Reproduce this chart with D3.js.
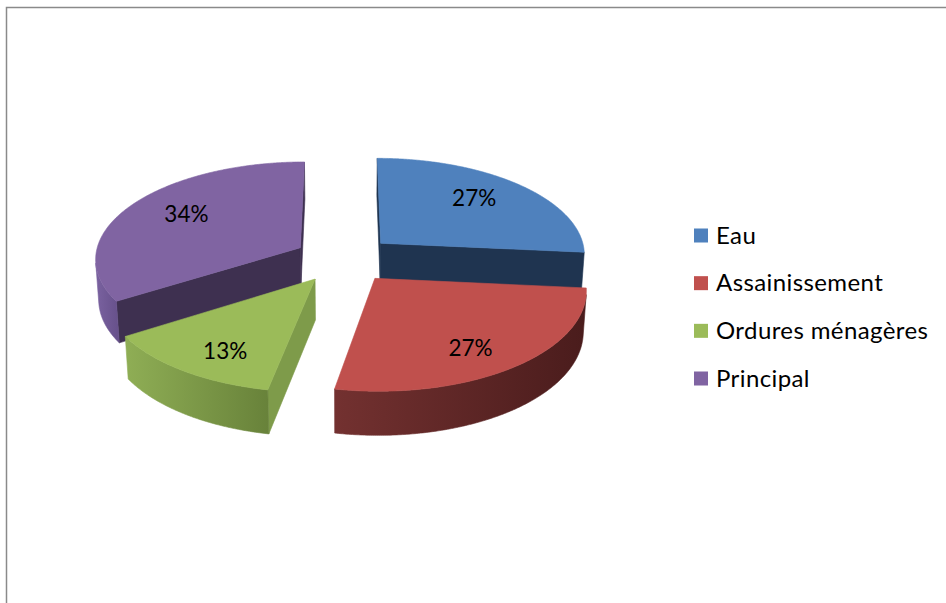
<!DOCTYPE html>
<html>
<head>
<meta charset="utf-8">
<script src="https://cdn.jsdelivr.net/npm/d3@7"></script>
<style>
  body { margin: 0; background: #fff; }
  svg { display: block; }
  text { font-family: Lato, "Open Sans", sans-serif; fill: #000; }
</style>
</head>
<body>
<svg width="946" height="603"></svg>
<script>
// data
var categories = ["Eau", "Assainissement", "Ordures ménagères", "Principal"];
var values = [26.5, 26.5, 13, 34];

// styles
var topColors = ["#4F81BD", "#C0504D", "#9BBB59", "#8064A2"];
var cutColors = ["#1F3450", "#5A2423", "#7E9B4A", "#3E3050"];
var wallLight = ["#2C4A70", "#733130", "#8FAE55", "#7A62A0"];
var wallDark = ["#1F3450", "#4A1C1C", "#68823A", "#66508A"];

var svg = d3.select("svg");

// chart frame
svg.append("rect")
    .attr("x", 6.5).attr("y", 7.5)
    .attr("width", 1200).attr("height", 1200)
    .attr("fill", "#fff")
    .attr("stroke", "#8a8a8a")
    .attr("stroke-width", 1.5);

// 3d projection of the pie (unit radius, viewed from above at an angle)
var sinP = 0.471, cosP = 0.882, dist = 8.5, focal = 1748;
var cx = 344, cy = 259, explode = 0.245, depth = 0.225;

function project(X, Y, Z) {
    var u = Y * cosP + Z * sinP,
        d = Z * cosP - Y * sinP;
    return [cx + focal * X / (dist + d), cy - focal * u / (dist + d)];
}

var arcs = d3.pie().sort(null).value(function(d) { return d; })(values);
var total = d3.sum(values);

arcs.forEach(function(a, i) {
    a.i = i;
    a.mid = (a.startAngle + a.endAngle) / 2;
    a.ox = explode * Math.sin(a.mid);
    a.oz = explode * Math.cos(a.mid);
});

function pt(a, ang, r, Y) {
    return project(a.ox + r * Math.sin(ang), Y, a.oz + r * Math.cos(ang));
}
function arcPts(a, t0, t1, Y) {
    var n = Math.max(2, Math.ceil((t1 - t0) / (Math.PI / 360)));
    return d3.range(n + 1).map(function(k) { return pt(a, t0 + (t1 - t0) * k / n, 1, Y); });
}
function pathOf(pts) {
    return "M" + pts.map(function(p) { return p[0].toFixed(2) + "," + p[1].toFixed(2); }).join("L") + "Z";
}
// is the outer wall at angle t facing the camera
function wallVisible(a, t) {
    return -a.ox * Math.sin(t) - 1 - (dist * cosP + a.oz) * Math.cos(t) > 0;
}

var defs = svg.append("defs");

// back slices first
var order = arcs.slice().sort(function(p, q) { return q.oz - p.oz; });

order.forEach(function(a) {
    var i = a.i;
    var g = svg.append("g").attr("class", "slice");

    // cut faces along the radii
    [[a.startAngle, -1], [a.endAngle, 1]].forEach(function(f) {
        var quad = [pt(a, f[0], 0, 0), pt(a, f[0], 1, 0), pt(a, f[0], 1, -depth), pt(a, f[0], 0, -depth)];
        if (f[1] * d3.polygonArea(quad) < 0) {
            g.append("path")
                .attr("d", pathOf(quad))
                .attr("fill", cutColors[i])
                .attr("stroke", cutColors[i])
                .attr("stroke-width", 0.6);
        }
    });

    // outer wall
    var steps = d3.range(0, 721).map(function(k) { return a.startAngle + (a.endAngle - a.startAngle) * k / 720; })
        .filter(function(t) { return wallVisible(a, t); });
    if (steps.length > 1) {
        var t0 = steps[0], t1 = steps[steps.length - 1];
        var pts = arcPts(a, t0, t1, 0).concat(arcPts(a, t0, t1, -depth).reverse());
        var xs = d3.extent(pts, function(p) { return p[0]; });
        var gid = "wall" + i;
        var grad = defs.append("linearGradient")
            .attr("id", gid)
            .attr("gradientUnits", "userSpaceOnUse")
            .attr("x1", xs[0]).attr("x2", xs[1])
            .attr("y1", 0).attr("y2", 0);
        grad.append("stop").attr("offset", 0).attr("stop-color", wallLight[i]);
        grad.append("stop").attr("offset", 1).attr("stop-color", wallDark[i]);
        g.append("path")
            .attr("d", pathOf(pts))
            .attr("fill", "url(#" + gid + ")")
            .attr("stroke", "url(#" + gid + ")")
            .attr("stroke-width", 0.6);
    }

    // top face
    var top = [pt(a, a.startAngle, 0, 0)].concat(arcPts(a, a.startAngle, a.endAngle, 0));
    g.append("path")
        .attr("d", pathOf(top))
        .attr("fill", topColors[i])
        .attr("stroke", topColors[i])
        .attr("stroke-width", 0.6);
});

// percentage labels on the top faces
arcs.forEach(function(a) {
    var apex = pt(a, a.mid, 0, 0), rim = pt(a, a.mid, 1, 0);
    svg.append("text")
        .attr("x", apex[0] + 0.68 * (rim[0] - apex[0]))
        .attr("y", apex[1] + 0.78 * (rim[1] - apex[1]))
        .attr("text-anchor", "middle")
        .attr("dominant-baseline", "central")
        .style("font-size", "22.5px")
        .text(Math.round(a.value * 100 / total) + "%");
});

// legend
var rows = d3.scalePoint().domain(categories).range([235.5, 378.5]);
var legend = svg.append("g").attr("class", "legend");
categories.forEach(function(c, i) {
    legend.append("rect")
        .attr("x", 694).attr("y", rows(c) - 7)
        .attr("width", 14).attr("height", 14)
        .attr("fill", topColors[i]);
    legend.append("text")
        .attr("x", 716).attr("y", rows(c) + 8)
        .style("font-size", "24px")
        .style("letter-spacing", "0.4px")
        .text(c);
});
</script>
</body>
</html>
